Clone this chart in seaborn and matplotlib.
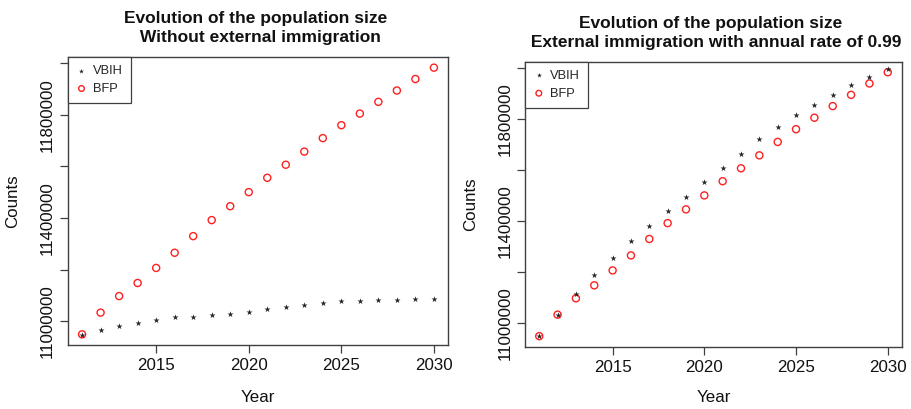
import matplotlib
matplotlib.use("Agg")
import matplotlib.pyplot as plt
import seaborn as sns
import pandas as pd

# Projected population counts, 2011-2030
years = list(range(2011, 2031))

bfp = [10949400, 11033600, 11097700, 11148400, 11206800, 11265600, 11330000,
       11392100, 11446000, 11500600, 11556200, 11606800, 11657600, 11710000,
       11760000, 11805000, 11850500, 11894500, 11939000, 11983000]

vbih_no_immigration = [10948000, 10967000, 10983000, 10995000, 11003500,
                       11015000, 11017000, 11024500, 11030000, 11036000,
                       11046500, 11055500, 11064500, 11071000, 11077500,
                       11080500, 11084000, 11084000, 11086500, 11086500]

vbih_immigration = [10949400, 11033600, 11113000, 11187500, 11254500,
                    11320800, 11379300, 11440500, 11496300, 11553600,
                    11609400, 11664000, 11720000, 11768000, 11815000,
                    11856000, 11893000, 11932000, 11963000, 11997000]

titles = ["Evolution of the population size \n Without external immigration",
          "Evolution of the population size \n External immigration with annual rate of 0.99"]
series_labels = ["VBIH", "BFP"]
x_ticks = [2015, 2020, 2025, 2030]
y_ticks = [11000000, 11200000, 11400000, 11600000, 11800000, 12000000]
y_tick_labels = ["11000000", "", "11400000", "", "11800000", ""]

sns.set_style("ticks")
plt.rcParams["font.family"] = ["Liberation Sans", "DejaVu Sans"]

W, H = 912, 409
fig = plt.figure(figsize=(W / 100, H / 100), dpi=100)

# panel boxes in pixels: left, top, right, bottom
boxes = [(68, 57, 448, 345), (525.3, 61.7, 901.7, 346.7)]
vbih_sets = [vbih_no_immigration, vbih_immigration]


def padded(lo, hi, frac=0.04):
    d = (hi - lo) * frac
    return lo - d, hi + d


edge = "#404040"
text_col = "#111111"
for box, title, vbih in zip(boxes, titles, vbih_sets):
    l, t, r, b = box
    ax = fig.add_axes([l / W, 1 - b / H, (r - l) / W, (b - t) / H])

    df = pd.DataFrame({"Year": years, "BFP": bfp, "VBIH": vbih})
    sns.scatterplot(data=df, x="Year", y="BFP", ax=ax, marker="o",
                    facecolor="none", edgecolor="#ff2020", s=26,
                    linewidth=1.0, label="BFP", zorder=3)
    sns.scatterplot(data=df, x="Year", y="VBIH", ax=ax, marker="*",
                    color="#252525", s=21, linewidth=0, label="VBIH",
                    zorder=4)

    ax.set_xlim(*padded(min(years), max(years)))
    ax.set_ylim(*padded(min(bfp), max(bfp)))
    ax.set_xticks(x_ticks)
    ax.set_xticklabels([str(v) for v in x_ticks])
    ax.set_yticks(y_ticks)
    ax.set_yticklabels(y_tick_labels, rotation=90, va="center", ha="right")

    ax.tick_params(axis="both", direction="out", length=5.8, width=0.9,
                   color=edge, labelsize=12.2, labelcolor=text_col)
    ax.tick_params(axis="x", pad=3.5)
    ax.tick_params(axis="y", pad=3.4)

    for sp in ax.spines.values():
        sp.set_visible(True)
        sp.set_color(edge)
        sp.set_linewidth(1.0)

    ax.set_xlabel("Year", fontsize=12.2, color=text_col)
    ax.set_ylabel("Counts", fontsize=12.2, color=text_col)
    ax.xaxis.set_label_coords(0.5, (b - 398) / (b - t))
    ax.xaxis.label.set_va("center")
    ax.yaxis.set_label_coords((13 + (l - 68) - l) / (r - l), 0.5)
    ax.yaxis.label.set_va("center")

    ax.set_title(title, fontsize=12.5, fontweight="bold", color=text_col,
                 linespacing=1.38, va="center", y=1 + 20.5 / (b - t))

    handles, labels = ax.get_legend_handles_labels()
    order = [labels.index(s) for s in series_labels]
    leg = ax.legend([handles[i] for i in order], [labels[i] for i in order],
                    loc="upper left", bbox_to_anchor=(0, 1), borderaxespad=0,
                    fontsize=9.3, frameon=True, fancybox=False, framealpha=1,
                    edgecolor=edge, borderpad=0.62, handlelength=0.85,
                    handletextpad=0.45, labelspacing=0.45, markerscale=0.8)
    leg.get_frame().set_linewidth(0.9)

fig.savefig("out.png", dpi=100)
